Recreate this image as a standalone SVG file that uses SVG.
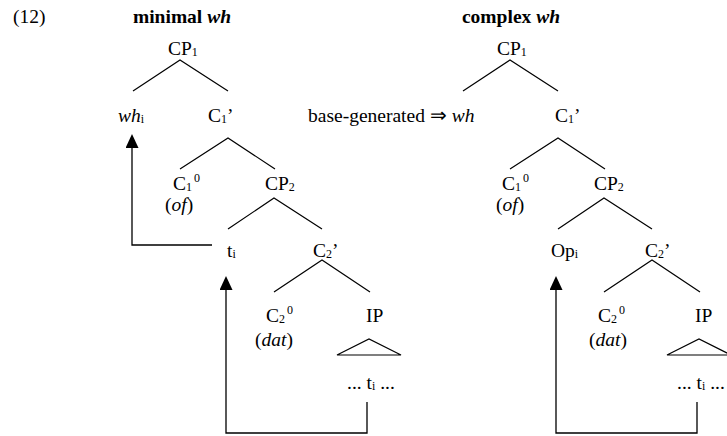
<svg xmlns="http://www.w3.org/2000/svg" width="727" height="436" viewBox="0 0 727 436">
  <style>
    text { font-family: "Liberation Serif", "Times New Roman", serif; font-size: 19.5px; fill: #000; }
    .title { font-weight: bold; text-anchor: middle; }
    .it { font-style: italic; }
    .sub { font-size: 12px; }
    .edge { stroke: #000; stroke-width: 1.2; fill: none; }
    .move { stroke: #000; stroke-width: 1.3; fill: none; marker-end: url(#head); }
  </style>
  <defs>
    <marker id="head" viewBox="0 0 14 13" refX="0" refY="6.5" markerWidth="14" markerHeight="13" markerUnits="userSpaceOnUse" orient="auto">
      <path d="M0,0 L14,6.5 L0,13 Z" fill="#000"/>
    </marker>
  </defs>
  <rect width="727" height="436" fill="#fff"/>

  <!-- example number and headings -->
  <g id="label-12"><text x="13" y="23">(12)</text></g>
  <g id="title-minimal"><text class="title" x="182" y="23">minimal <tspan class="it">wh</tspan></text></g>
  <g id="title-complex"><text class="title" x="511" y="23">complex <tspan class="it">wh</tspan></text></g>

  <!-- tree branches and movement arrows -->
  <g id="connectors">
    <!-- minimal wh tree -->
    <polyline class="edge" points="133,91 180,60 228,91"/>
    <polyline class="edge" points="180,169 228,138 275,169"/>
    <polyline class="edge" points="228,229 274,198 322,229"/>
    <polyline class="edge" points="274,292 322,260 370,292"/>
    <polygon class="edge" points="337,355 369,339 401,355"/>
    <path class="move" d="M212,245 H132 V148"/>
    <path class="move" d="M367,402 V433 H226 V290"/>
    <!-- complex wh tree -->
    <polyline class="edge" points="463,91 510,60 558,91"/>
    <polyline class="edge" points="510,169 558,138 605,169"/>
    <polyline class="edge" points="558,229 604,198 652,229"/>
    <polyline class="edge" points="604,292 652,260 700,292"/>
    <polygon class="edge" points="667,355 699,339 731,355"/>
    <path class="move" d="M697,402 V433 H556 V290"/>
  </g>

  <!-- minimal wh nodes -->
  <g id="m-CP1"><text x="168" y="55">CP<tspan class="sub" dy="1">1</tspan></text></g>
  <g id="m-wh"><text x="118" y="122"><tspan class="it">wh</tspan><tspan class="sub" dy="1">i</tspan></text></g>
  <g id="m-C1bar"><text x="208" y="122">C<tspan class="sub" dy="1">1</tspan><tspan dy="-1">’</tspan></text></g>
  <g id="m-C1head"><text x="173" y="190">C<tspan class="sub" dy="1">1</tspan><tspan class="sub" dx="2" dy="-9">0</tspan></text>
    <text x="165" y="211">(<tspan class="it">of</tspan>)</text></g>
  <g id="m-CP2"><text x="265" y="190">CP<tspan class="sub" dy="1">2</tspan></text></g>
  <g id="m-trace"><text x="227" y="257">t<tspan class="sub" dy="1">i</tspan></text></g>
  <g id="m-C2bar"><text x="313" y="257">C<tspan class="sub" dy="1">2</tspan><tspan dy="-1">’</tspan></text></g>
  <g id="m-C2head"><text x="266" y="322">C<tspan class="sub" dy="1">2</tspan><tspan class="sub" dx="2" dy="-9">0</tspan></text>
    <text x="255" y="346">(<tspan class="it">dat</tspan>)</text></g>
  <g id="m-IP"><text x="366" y="322">IP</text></g>
  <g id="m-IPcontent"><text x="347" y="389">... t<tspan class="sub" dy="1">i</tspan><tspan dy="-1"> ...</tspan></text></g>

  <!-- complex wh nodes -->
  <g id="c-CP1"><text x="497" y="55">CP<tspan class="sub" dy="1">1</tspan></text></g>
  <g id="c-wh"><text x="308" y="122">base-generated ⇒ <tspan class="it">wh</tspan></text></g>
  <g id="c-C1bar"><text x="555" y="122">C<tspan class="sub" dy="1">1</tspan><tspan dy="-1">’</tspan></text></g>
  <g id="c-C1head"><text x="502" y="190">C<tspan class="sub" dy="1">1</tspan><tspan class="sub" dx="2" dy="-9">0</tspan></text>
    <text x="496" y="211">(<tspan class="it">of</tspan>)</text></g>
  <g id="c-CP2"><text x="594" y="190">CP<tspan class="sub" dy="1">2</tspan></text></g>
  <g id="c-Op"><text x="551" y="257">Op<tspan class="sub" dy="1">i</tspan></text></g>
  <g id="c-C2bar"><text x="645" y="257">C<tspan class="sub" dy="1">2</tspan><tspan dy="-1">’</tspan></text></g>
  <g id="c-C2head"><text x="598" y="322">C<tspan class="sub" dy="1">2</tspan><tspan class="sub" dx="2" dy="-9">0</tspan></text>
    <text x="589" y="346">(<tspan class="it">dat</tspan>)</text></g>
  <g id="c-IP"><text x="695" y="322">IP</text></g>
  <g id="c-IPcontent"><text x="677" y="389">... t<tspan class="sub" dy="1">i</tspan><tspan dy="-1"> ...</tspan></text></g>
</svg>
